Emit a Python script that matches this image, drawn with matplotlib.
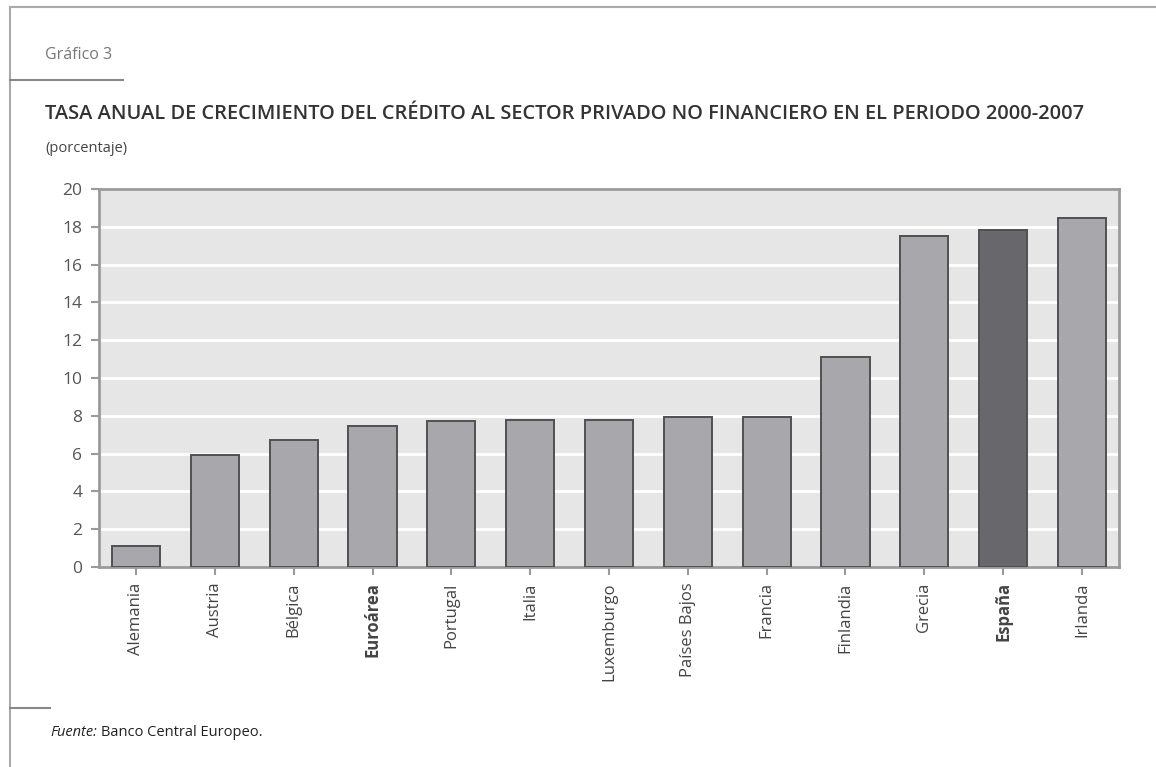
import matplotlib
matplotlib.use("Agg")
import matplotlib.pyplot as plt
from matplotlib.lines import Line2D

paises = ['Alemania', 'Austria', 'Bélgica', 'Euroárea', 'Portugal', 'Italia',
          'Luxemburgo', 'Países Bajos', 'Francia', 'Finlandia', 'Grecia',
          'España', 'Irlanda']
tasas = [1.1, 5.9, 6.7, 7.45, 7.75, 7.8, 7.8, 7.95, 7.95, 11.1, 17.5, 17.85, 18.45]
destacados = ['Euroárea', 'España']

plt.rcParams['font.family'] = ['Open Sans', 'DejaVu Sans']

W, H = 1156, 767
fig = plt.figure(figsize=(W / 100, H / 100), dpi=100)

def px(x, y):
    return x / W, 1 - y / H

# marco de la pagina
for (x0, y0), (x1, y1), c in [((10, 7), (1156, 7), '#aaaaaa'),
                              ((10, 7), (10, 767), '#aaaaaa'),
                              ((10, 80), (123, 80), '#888888'),
                              ((10, 708), (50, 708), '#888888')]:
    a, b = px(x0, y0)
    c2, d = px(x1, y1)
    fig.add_artist(Line2D([a, c2], [b, d], color=c, lw=1.5))

fig.text(*px(45, 55), 'Gráfico 3', fontsize=11.5, color='#777777', va='center')
fig.text(*px(45, 114), 'TASA ANUAL DE CRECIMIENTO DEL CRÉDITO AL SECTOR PRIVADO NO FINANCIERO EN EL PERIODO 2000-2007',
         fontsize=14.4, color='#333333', va='center', fontweight='semibold')
fig.text(*px(45, 148), '(porcentaje)', fontsize=10.5, color='#444444', va='center')
fig.text(*px(50, 732), 'Fuente:', fontsize=10.5, color='#222222', va='center',
         style='italic')
fig.text(*px(101, 732), 'Banco Central Europeo.', fontsize=10.5, color='#222222',
         va='center')

ax = fig.add_axes([99 / W, 1 - 567 / H, (1119 - 99) / W, (567 - 189) / H])
ax.set_facecolor('#e6e6e6')
colores = ['#68676b' if p == 'España' else '#a8a7ab' for p in paises]
ax.bar(range(len(paises)), tasas, width=0.61, color=colores,
       edgecolor='#505050', linewidth=1.4, zorder=3)
ax.set_xlim(-0.47, len(paises) - 0.53)
ax.set_ylim(0, 20)
ax.set_yticks(range(0, 21, 2))
ax.yaxis.grid(True, color='white', lw=2, zorder=1)
ax.set_axisbelow(True)
for s in ax.spines.values():
    s.set_color('#9a9a9a')
    s.set_linewidth(2)
ax.tick_params(axis='y', colors='#9a9a9a', labelcolor='#555555', labelsize=12.5,
               length=6, width=1.5, pad=6)
ax.tick_params(axis='x', colors='#9a9a9a', labelcolor='#444444', labelsize=12,
               length=6, width=1.5, pad=5)
ax.set_xticks(range(len(paises)))
ax.set_xticklabels(paises, rotation=90)
for lab in ax.get_xticklabels():
    if lab.get_text() in destacados:
        lab.set_fontweight('bold')

fig.savefig('out.png', dpi=100)
